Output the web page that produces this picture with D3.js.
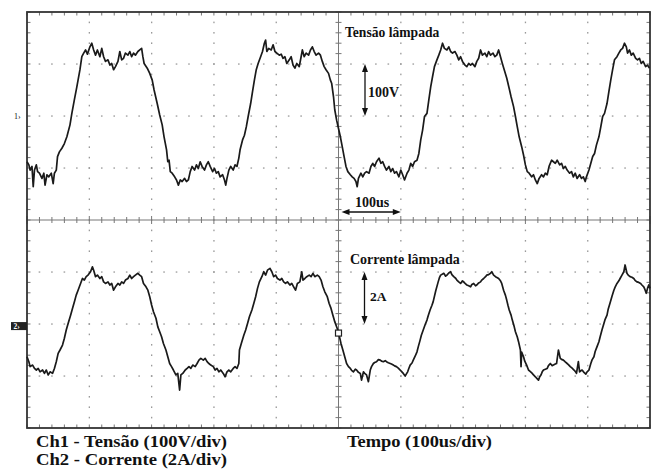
<!DOCTYPE html>
<html><head><meta charset="utf-8">
<script src="https://cdn.jsdelivr.net/npm/d3@7"></script>
<style>
html,body{margin:0;padding:0;background:#fff;}
svg{display:block;}
text{font-family:"Liberation Serif","Times New Roman",serif;font-weight:bold;fill:#111;}
</style></head>
<body>
<script>
// ---- data (time in us, Ch1 in V, Ch2 in A) ----
const timeTicks = [0,100,200,300,400,500,600,700,800,900,1000];
const divTicks = [-4,-3,-2,-1,0,1,2,3,4];
const ch1 = [[0,-88],[3,-94],[5,-104],[8,-97],[10,-136],[12,-104],[15,-94],[17,-107],[20,-110],[24,-120],[27,-110],[29,-133],[32,-113],[35,-117],[39,-110],[42,-130],[44,-110],[47,-104],[49,-78],[52,-69],[56,-62],[60,-53],[64,-40],[69,-17],[72,5],[76,31],[80,56],[85,89],[88,114],[91,121],[94,127],[97,119],[101,133],[104,140],[107,127],[110,117],[113,127],[117,114],[120,130],[123,114],[126,105],[130,108],[133,98],[136,101],[139,89],[142,95],[146,105],[149,124],[152,108],[155,111],[158,121],[162,117],[165,124],[168,114],[171,121],[174,117],[178,124],[181,127],[184,130],[186,114],[188,101],[193,92],[197,82],[201,69],[204,50],[209,24],[213,2],[217,-17],[220,-40],[224,-65],[226,-88],[228,-85],[230,-107],[233,-110],[237,-117],[240,-123],[243,-133],[246,-123],[249,-126],[253,-120],[256,-126],[259,-123],[262,-107],[265,-97],[269,-104],[272,-94],[275,-101],[278,-88],[281,-97],[285,-104],[288,-94],[291,-88],[294,-97],[298,-107],[301,-101],[304,-110],[307,-107],[310,-117],[314,-113],[317,-123],[319,-133],[321,-120],[324,-104],[327,-97],[331,-104],[334,-94],[337,-97],[340,-81],[342,-65],[346,-46],[349,-37],[352,-21],[355,-1],[359,24],[362,47],[365,69],[368,89],[371,101],[375,114],[378,124],[381,140],[383,146],[385,124],[388,130],[392,127],[395,137],[398,124],[401,121],[405,117],[408,119],[411,111],[414,114],[417,101],[421,108],[424,114],[427,98],[430,92],[433,101],[437,95],[440,114],[442,127],[445,114],[448,121],[452,117],[455,127],[458,133],[461,124],[464,117],[468,121],[471,117],[474,105],[477,95],[480,89],[484,82],[487,69],[489,63],[492,37],[494,12],[497,-8],[500,-24],[503,-40],[506,-59],[509,-78],[512,-97],[515,-107],[519,-113],[522,-117],[525,-120],[528,-126],[530,-136],[532,-120],[536,-110],[539,-117],[542,-110],[545,-107],[549,-110],[552,-97],[555,-91],[558,-97],[561,-88],[565,-81],[568,-91],[571,-88],[574,-97],[577,-104],[581,-97],[584,-107],[587,-101],[590,-110],[593,-107],[597,-117],[600,-104],[603,-113],[606,-123],[610,-110],[613,-104],[616,-91],[619,-97],[622,-88],[626,-85],[629,-72],[632,-46],[635,-27],[638,-1],[642,5],[645,31],[648,56],[651,76],[654,95],[658,108],[661,117],[664,127],[667,140],[670,130],[674,127],[677,133],[680,124],[683,121],[687,124],[690,117],[693,108],[696,114],[699,105],[703,98],[706,95],[709,101],[712,98],[715,101],[719,95],[722,105],[725,111],[728,127],[731,117],[735,121],[738,114],[741,124],[744,117],[748,121],[751,114],[754,117],[757,127],[760,114],[763,101],[766,89],[770,73],[774,53],[777,37],[781,18],[784,-1],[787,-21],[790,-40],[794,-59],[797,-75],[800,-94],[803,-107],[806,-110],[810,-117],[813,-113],[816,-123],[819,-130],[822,-120],[826,-113],[829,-117],[832,-110],[835,-113],[838,-97],[842,-85],[845,-88],[848,-91],[851,-85],[855,-94],[858,-91],[861,-101],[864,-97],[867,-104],[871,-110],[874,-107],[877,-117],[880,-110],[883,-120],[887,-113],[890,-120],[893,-117],[896,-126],[898,-117],[902,-104],[905,-91],[908,-78],[911,-72],[914,-56],[918,-40],[921,-21],[924,-1],[927,5],[931,24],[934,47],[937,69],[940,89],[943,108],[947,114],[950,121],[953,127],[956,130],[959,140],[962,133],[964,121],[967,127],[970,117],[973,121],[977,111],[980,108],[983,111],[986,101],[989,105],[993,95],[996,98],[999,92]];
const ch2 = [[0,-1.18],[3,-1.37],[5,-1.56],[9,-1.50],[12,-1.63],[15,-1.69],[18,-1.63],[21,-1.76],[25,-1.69],[28,-1.82],[31,-1.69],[34,-1.88],[37,-1.76],[41,-1.82],[44,-1.63],[47,-1.37],[50,-1.05],[53,-0.92],[57,-0.73],[60,-0.47],[63,-0.15],[66,0.10],[70,0.42],[73,0.68],[76,0.93],[79,1.19],[82,1.38],[86,1.64],[89,1.83],[92,1.77],[95,1.90],[98,1.96],[102,2.09],[105,2.28],[107,2.15],[110,1.90],[113,1.96],[117,1.83],[120,1.90],[123,1.70],[126,1.64],[130,1.70],[133,1.58],[136,1.64],[139,1.38],[142,1.51],[146,1.64],[149,1.58],[152,1.70],[155,1.64],[158,1.77],[162,1.83],[165,1.96],[168,1.83],[171,1.90],[174,1.96],[178,2.03],[181,1.96],[184,1.90],[187,1.64],[191,1.51],[194,1.38],[197,1.13],[200,0.81],[203,0.55],[207,0.30],[210,-0.03],[213,-0.22],[216,-0.41],[219,-0.67],[223,-0.92],[226,-1.18],[229,-1.44],[232,-1.56],[235,-1.69],[239,-1.88],[242,-1.82],[245,-2.46],[247,-1.88],[250,-1.82],[254,-1.69],[257,-1.63],[260,-1.56],[263,-1.63],[266,-1.50],[270,-1.56],[273,-1.44],[276,-1.31],[279,-1.24],[283,-1.31],[286,-1.24],[289,-1.37],[292,-1.44],[295,-1.50],[299,-1.56],[302,-1.69],[305,-1.63],[308,-1.76],[311,-1.69],[315,-1.82],[318,-1.95],[321,-1.76],[324,-1.69],[327,-1.76],[331,-1.63],[334,-1.56],[337,-1.63],[340,-1.44],[341,-0.92],[344,-0.67],[348,-0.35],[351,-0.15],[354,0.10],[357,0.36],[361,0.62],[364,0.87],[367,1.13],[370,1.45],[373,1.70],[377,1.90],[380,2.09],[383,1.96],[386,2.15],[390,2.22],[393,2.09],[396,1.90],[399,1.96],[402,1.83],[406,1.77],[409,1.83],[412,1.70],[415,1.64],[418,1.70],[422,1.58],[425,1.64],[428,1.51],[431,1.38],[434,1.64],[438,1.70],[441,2.09],[443,1.77],[446,1.83],[449,1.90],[453,1.96],[456,1.90],[459,2.03],[462,1.90],[466,1.96],[469,1.90],[472,1.77],[475,1.51],[478,1.32],[482,1.13],[485,0.87],[488,0.68],[491,0.42],[494,0.17],[498,-0.09],[501,-0.35],[504,-0.67],[507,-0.92],[510,-1.18],[513,-1.44],[516,-1.56],[519,-1.63],[521,-1.70],[524,-1.76],[527,-1.66],[529,-1.69],[532,-1.78],[535,-1.82],[537,-2.08],[540,-1.76],[542,-1.82],[545,-1.88],[548,-2.14],[551,-1.69],[553,-1.56],[556,-1.44],[558,-1.40],[561,-1.37],[564,-1.29],[567,-1.31],[569,-1.35],[572,-1.37],[575,-1.33],[577,-1.37],[580,-1.41],[583,-1.44],[585,-1.46],[588,-1.50],[590,-1.53],[593,-1.56],[596,-1.62],[599,-1.69],[601,-1.74],[604,-1.82],[607,-1.92],[609,-1.84],[611,-1.76],[613,-1.62],[615,-1.50],[618,-1.42],[620,-1.31],[623,-1.16],[626,-0.99],[628,-0.80],[631,-0.54],[633,-0.35],[636,-0.15],[639,0.05],[642,0.23],[644,0.40],[647,0.62],[650,0.80],[652,0.94],[656,1.35],[660,1.70],[662,1.86],[664,1.96],[667,2.00],[669,2.03],[672,1.92],[674,1.96],[677,2.04],[680,2.09],[682,1.98],[685,1.90],[688,1.84],[690,1.77],[693,1.70],[696,1.64],[699,1.74],[701,1.70],[704,1.62],[706,1.58],[709,1.55],[712,1.51],[714,1.60],[717,1.64],[720,1.55],[722,1.58],[725,1.66],[728,1.70],[730,1.77],[733,1.83],[736,1.90],[738,1.96],[741,1.98],[744,2.03],[746,2.09],[749,1.96],[752,1.90],[755,1.86],[757,1.83],[760,1.74],[762,1.64],[765,1.38],[768,1.18],[770,1.00],[772,0.80],[774,0.62],[777,0.42],[779,0.23],[782,-0.02],[784,-0.22],[787,-0.42],[789,-0.60],[792,-0.92],[793,-1.56],[794,-1.00],[797,-1.18],[799,-1.35],[802,-1.50],[805,-1.69],[808,-1.75],[811,-1.82],[813,-1.88],[816,-1.95],[818,-2.00],[821,-2.08],[823,-1.95],[825,-1.88],[827,-1.76],[829,-1.69],[832,-1.66],[835,-1.63],[837,-1.52],[840,-1.44],[843,-1.52],[845,-1.50],[848,-1.46],[850,-1.44],[853,-0.92],[856,-1.24],[858,-1.28],[861,-1.31],[864,-1.38],[867,-1.44],[869,-1.48],[872,-1.56],[875,-1.62],[878,-1.69],[880,-1.74],[882,-1.82],[885,-1.37],[887,-1.76],[889,-1.72],[891,-1.69],[894,-1.78],[897,-1.85],[899,-1.76],[902,-1.69],[905,-1.44],[907,-1.30],[910,-1.18],[912,-0.98],[915,-0.79],[918,-0.60],[920,-0.41],[923,-0.14],[926,0.10],[928,0.26],[931,0.42],[933,0.66],[936,0.90],[939,1.15],[942,1.38],[944,1.50],[947,1.64],[950,1.74],[952,1.83],[955,1.96],[958,2.09],[960,2.35],[963,2.03],[965,1.96],[968,1.90],[971,1.88],[974,1.83],[976,1.76],[979,1.70],[982,1.68],[985,1.64],[987,1.58],[990,1.51],[992,1.40],[994,1.26],[996,1.45],[998,1.58],[1000,1.45]];
const ch1Scale = 100;   // V/div
const ch2Scale = 2;     // A/div
const ch1Label = "Ch1 - Tensão (100V/div)";
const ch2Label = "Ch2 - Corrente (2A/div)";
const timeLabel = "Tempo (100us/div)";
const ch1Title = "Tensão lâmpada";
const ch2Title = "Corrente lâmpada";

// ---- layout ----
const W = 657, H = 469;
const L = 27, R = 650, T = 12, B = 428;
const ch1Pos = 2, ch2Pos = -2.04; // ground offsets in divisions

const svg = d3.select("body").append("svg").attr("width", W).attr("height", H);
const x = d3.scaleLinear().domain([0, 1000]).range([L, R]);
const yd = d3.scaleLinear().domain([-4, 4]).range([B, T]);
const y1 = v => yd(v / ch1Scale + ch1Pos);
const y2 = v => yd(v / ch2Scale + ch2Pos);

const g = svg.append("g");
// dotted grid
const minorX = d3.range(0, 1000.01, 20);
const minorY = d3.range(-4, 4.01, 0.2);
timeTicks.slice(1, -1).filter(t => t !== 500).forEach(t => {
  g.append("g").selectAll("rect").data(minorY.slice(1, -1)).join("rect")
    .attr("x", x(t) - 0.6).attr("y", d => yd(d) - 0.8).attr("width", 1.3).attr("height", 1.6).attr("fill", "#9a9a9a");
});
divTicks.slice(1, -1).filter(d => d !== 0).forEach(dv => {
  g.append("g").selectAll("rect").data(minorX.slice(1, -1)).join("rect")
    .attr("x", d => x(d) - 0.8).attr("y", yd(dv) - 0.6).attr("width", 1.6).attr("height", 1.3).attr("fill", "#9a9a9a");
});
// center cross with ticks
g.append("line").attr("x1", L).attr("x2", R).attr("y1", yd(0)).attr("y2", yd(0)).attr("stroke", "#777").attr("stroke-width", 1);
g.append("line").attr("x1", x(500)).attr("x2", x(500)).attr("y1", T).attr("y2", B).attr("stroke", "#777").attr("stroke-width", 1);
g.append("g").selectAll("line").data(minorX).join("line")
  .attr("x1", d => x(d)).attr("x2", d => x(d))
  .attr("y1", d => yd(0) - (d % 100 === 0 ? 4 : 3)).attr("y2", d => yd(0) + (d % 100 === 0 ? 4 : 3))
  .attr("stroke", "#777");
g.append("g").selectAll("line").data(minorY).join("line")
  .attr("y1", d => yd(d)).attr("y2", d => yd(d))
  .attr("x1", x(500) - 3).attr("x2", x(500) + 3).attr("stroke", "#777");
// border ticks
g.append("g").selectAll("line").data(minorX).join("line")
  .attr("x1", d => x(d)).attr("x2", d => x(d)).attr("y1", T).attr("y2", T + 3.5).attr("stroke", "#777");
g.append("g").selectAll("line").data(minorX).join("line")
  .attr("x1", d => x(d)).attr("x2", d => x(d)).attr("y1", B).attr("y2", B - 3.5).attr("stroke", "#777");
g.append("g").selectAll("line").data(minorY).join("line")
  .attr("y1", d => yd(d)).attr("y2", d => yd(d)).attr("x1", L).attr("x2", L + 3.5).attr("stroke", "#777");
g.append("g").selectAll("line").data(minorY).join("line")
  .attr("y1", d => yd(d)).attr("y2", d => yd(d)).attr("x1", R).attr("x2", R - 3.5).attr("stroke", "#777");
// frame
g.append("rect").attr("x", L).attr("y", T).attr("width", R - L).attr("height", B - T)
  .attr("fill", "none").attr("stroke", "#333").attr("stroke-width", 1.8);

// traces
const line1 = d3.line().x(d => x(d[0])).y(d => y1(d[1]));
const line2 = d3.line().x(d => x(d[0])).y(d => y2(d[1]));
svg.append("path").attr("d", line1(ch1)).attr("fill", "none").attr("stroke", "#1a1a1a").attr("stroke-width", 1.7).attr("stroke-linejoin", "round");
svg.append("path").attr("d", line2(ch2)).attr("fill", "none").attr("stroke", "#1a1a1a").attr("stroke-width", 1.7).attr("stroke-linejoin", "round");

// channel markers
svg.append("text").attr("x", 14).attr("y", y1(0) + 3).style("font-size", "8px").style("font-weight", "normal").text("1›");
svg.append("rect").attr("x", 11).attr("y", y2(0) - 4).attr("width", 16).attr("height", 8).attr("fill", "#222");
svg.append("text").attr("x", 13.5).attr("y", y2(0) + 3).style("font-size", "7.5px").style("fill", "#fff").text("2›");
// trigger marker
svg.append("rect").attr("x", x(500) - 3).attr("y", y2(0) + 4).attr("width", 6).attr("height", 6)
  .attr("fill", "#fff").attr("stroke", "#222").attr("stroke-width", 1.2);

// arrows
function arrowV(xp, ya, yb) {
  svg.append("line").attr("x1", xp).attr("x2", xp).attr("y1", ya + 6).attr("y2", yb - 6).attr("stroke", "#111").attr("stroke-width", 1.3);
  svg.append("path").attr("d", `M${xp},${ya}L${xp - 3},${ya + 8}L${xp + 3},${ya + 8}Z`).attr("fill", "#111");
  svg.append("path").attr("d", `M${xp},${yb}L${xp - 3},${yb - 8}L${xp + 3},${yb - 8}Z`).attr("fill", "#111");
}
function arrowH(yp, xa, xb) {
  svg.append("line").attr("y1", yp).attr("y2", yp).attr("x1", xa + 6).attr("x2", xb - 6).attr("stroke", "#111").attr("stroke-width", 1.3);
  svg.append("path").attr("d", `M${xa},${yp}L${xa + 8},${yp - 3}L${xa + 8},${yp + 3}Z`).attr("fill", "#111");
  svg.append("path").attr("d", `M${xb},${yp}L${xb - 8},${yp - 3}L${xb - 8},${yp + 3}Z`).attr("fill", "#111");
}
arrowV(365, yd(3), yd(2));
arrowV(364.5, yd(-1), yd(-2));
arrowH(yd(0) - 8, x(500) + 3, x(600));

// annotation texts
svg.append("text").attr("x", 345).attr("y", 37).style("font-size", "13.6px").text(ch1Title);
svg.append("text").attr("x", 368).attr("y", 97).style("font-size", "14px").text("100V");
svg.append("text").attr("x", 355).attr("y", 207).style("font-size", "14px").text("100us");
svg.append("text").attr("x", 350).attr("y", 264).style("font-size", "14px").text(ch2Title);
svg.append("text").attr("x", 370).attr("y", 301).style("font-size", "13.5px").text("2A");

svg.append("text").attr("x", 36).attr("y", 447).style("font-size", "17px")
  .attr("textLength", 191).attr("lengthAdjust", "spacingAndGlyphs").text(ch1Label);
svg.append("text").attr("x", 36).attr("y", 465).style("font-size", "17px")
  .attr("textLength", 191).attr("lengthAdjust", "spacingAndGlyphs").text(ch2Label);
svg.append("text").attr("x", 347).attr("y", 447).style("font-size", "17px")
  .attr("textLength", 145).attr("lengthAdjust", "spacingAndGlyphs").text(timeLabel);
</script>
</body></html>
